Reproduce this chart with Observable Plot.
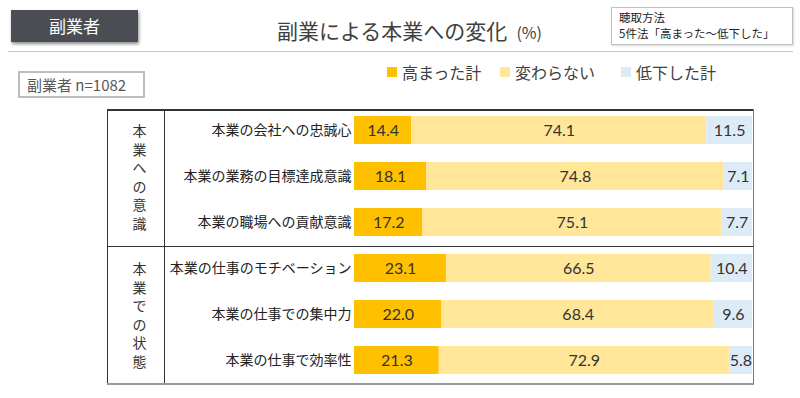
<!DOCTYPE html>
<html><head><meta charset="utf-8">
<script src="https://cdn.jsdelivr.net/npm/d3@7"></script>
<script src="https://cdn.jsdelivr.net/npm/@observablehq/plot@0.6"></script>
<style>
body{margin:0;background:#fff;font-family:"Noto Sans CJK JP",sans-serif;}
#wrap{position:relative;width:800px;height:398px;overflow:hidden;}
#wrap svg{position:absolute;left:0;top:0;}
.abs{position:absolute;white-space:nowrap;}
</style></head>
<body><div id="wrap"></div>
<script>
const categories = ["本業の会社への忠誠心","本業の業務の目標達成意識","本業の職場への貢献意識","本業の仕事のモチベーション","本業の仕事での集中力","本業の仕事で効率性"];
const seriesNames = ["高まった計","変わらない","低下した計"];
const seriesColors = ["#FFC000","#FFE699","#DDEBF7"];
const high = [14.4,18.1,17.2,23.1,22.0,21.3];
const same = [74.1,74.8,75.1,66.5,68.4,72.9];
const low  = [11.5,7.1,7.7,10.4,9.6,5.8];
const groups = ["本業への意識","本業での状態"];
const groupMid = [categories[1], categories[4]];

const data = [];
categories.forEach((c,i)=>{
  [high,same,low].forEach((arr,j)=>data.push({cat:c, series:seriesNames[j], value:arr[i]}));
});
const groupData = groups.map((g,i)=>({label:g.split("").join("\n"), cat:groupMid[i]}));

const wrap = document.getElementById("wrap");
const chart = Plot.plot({
  width:800, height:398,
  marginLeft:354, marginRight:48, marginTop:107, marginBottom:15,
  style:{fontFamily:"'Noto Sans CJK JP',sans-serif", background:"transparent"},
  x:{domain:[0,100], axis:null},
  y:{domain:categories, paddingInner:0.39, paddingOuter:0.195, label:null},
  color:{domain:seriesNames, range:seriesColors},
  marks:[
    Plot.barX(data, Plot.stackX({x:"value", y:"cat", fill:"series", z:"series"})),
    Plot.text(data, Plot.stackX({x:"value", y:"cat", z:"series", text:d=>d.value.toFixed(1), fontSize:16, fill:"#333", fontFamily:"Lato, 'DejaVu Sans', sans-serif"})),
    Plot.axisY({tickSize:0, tickPadding:3, fontSize:14, color:"#222", label:null}),
    Plot.text(groupData, {y:"cat", text:"label", frameAnchor:"left", dx:-215, textAnchor:"middle", lineHeight:1.32, fontSize:14, fill:"#333"})
  ]
});
wrap.appendChild(chart);

function addDiv(html, css){
  const d=document.createElement("div"); d.className="abs"; d.innerHTML=html; d.style.cssText+=css; wrap.appendChild(d); return d;
}
// header box
addDiv("副業者","left:11px;top:10px;width:127px;height:32px;background:#4a4e54;color:#fff;font-size:17px;line-height:32px;text-align:center;box-shadow:1px 2px 3px rgba(0,0,0,0.45);");
// title
addDiv('副業による本業への変化<span style="font-size:16px;margin-left:9px;">(%)</span>',"left:277px;top:15px;font-size:21px;line-height:30px;color:#404040;");
// method box
addDiv('<div style="line-height:16px;height:16px;">聴取方法</div><div style="line-height:16px;height:16px;">5件法「高まった～低下した」</div>',"left:611px;top:7px;width:173px;height:35px;border:1px solid #bfbfbf;padding:1px 0 0 7px;box-sizing:content-box;font-size:11.5px;color:#222;box-shadow:1px 1px 2px rgba(0,0,0,0.15);");
// separator line
addDiv("","left:8px;top:51px;width:785px;height:0;border-top:1px solid #c6c6c6;");
// n box
addDiv("副業者 n=1082","left:18px;top:71px;width:116px;height:23px;border:2px solid #bdbdbd;padding-left:7px;box-sizing:content-box;font-size:15px;line-height:23px;color:#595959;");
// legend
const legendX=[387,500,621];
seriesNames.forEach((s,i)=>{
  addDiv("","left:"+legendX[i]+"px;top:67px;width:10px;height:10px;background:"+seriesColors[i]+";");
  addDiv(s,"left:"+(legendX[i]+15)+"px;top:60px;font-size:16px;line-height:24px;color:#404040;");
});
// table frame
addDiv("","left:107px;top:109px;width:646px;height:0;border-top:2px solid #333;");
addDiv("","left:107px;top:109px;width:0;height:275px;border-left:1px solid #333;");
addDiv("","left:164px;top:109px;width:0;height:275px;border-left:1px solid #333;");
addDiv("","left:107px;top:246px;width:646px;height:0;border-top:1px solid #333;");
addDiv("","left:753px;top:109px;width:0;height:275px;border-left:1.5px solid #777;");
addDiv("","left:107px;top:383px;width:647px;height:0;border-top:2px solid #999;");
</script></body></html>
